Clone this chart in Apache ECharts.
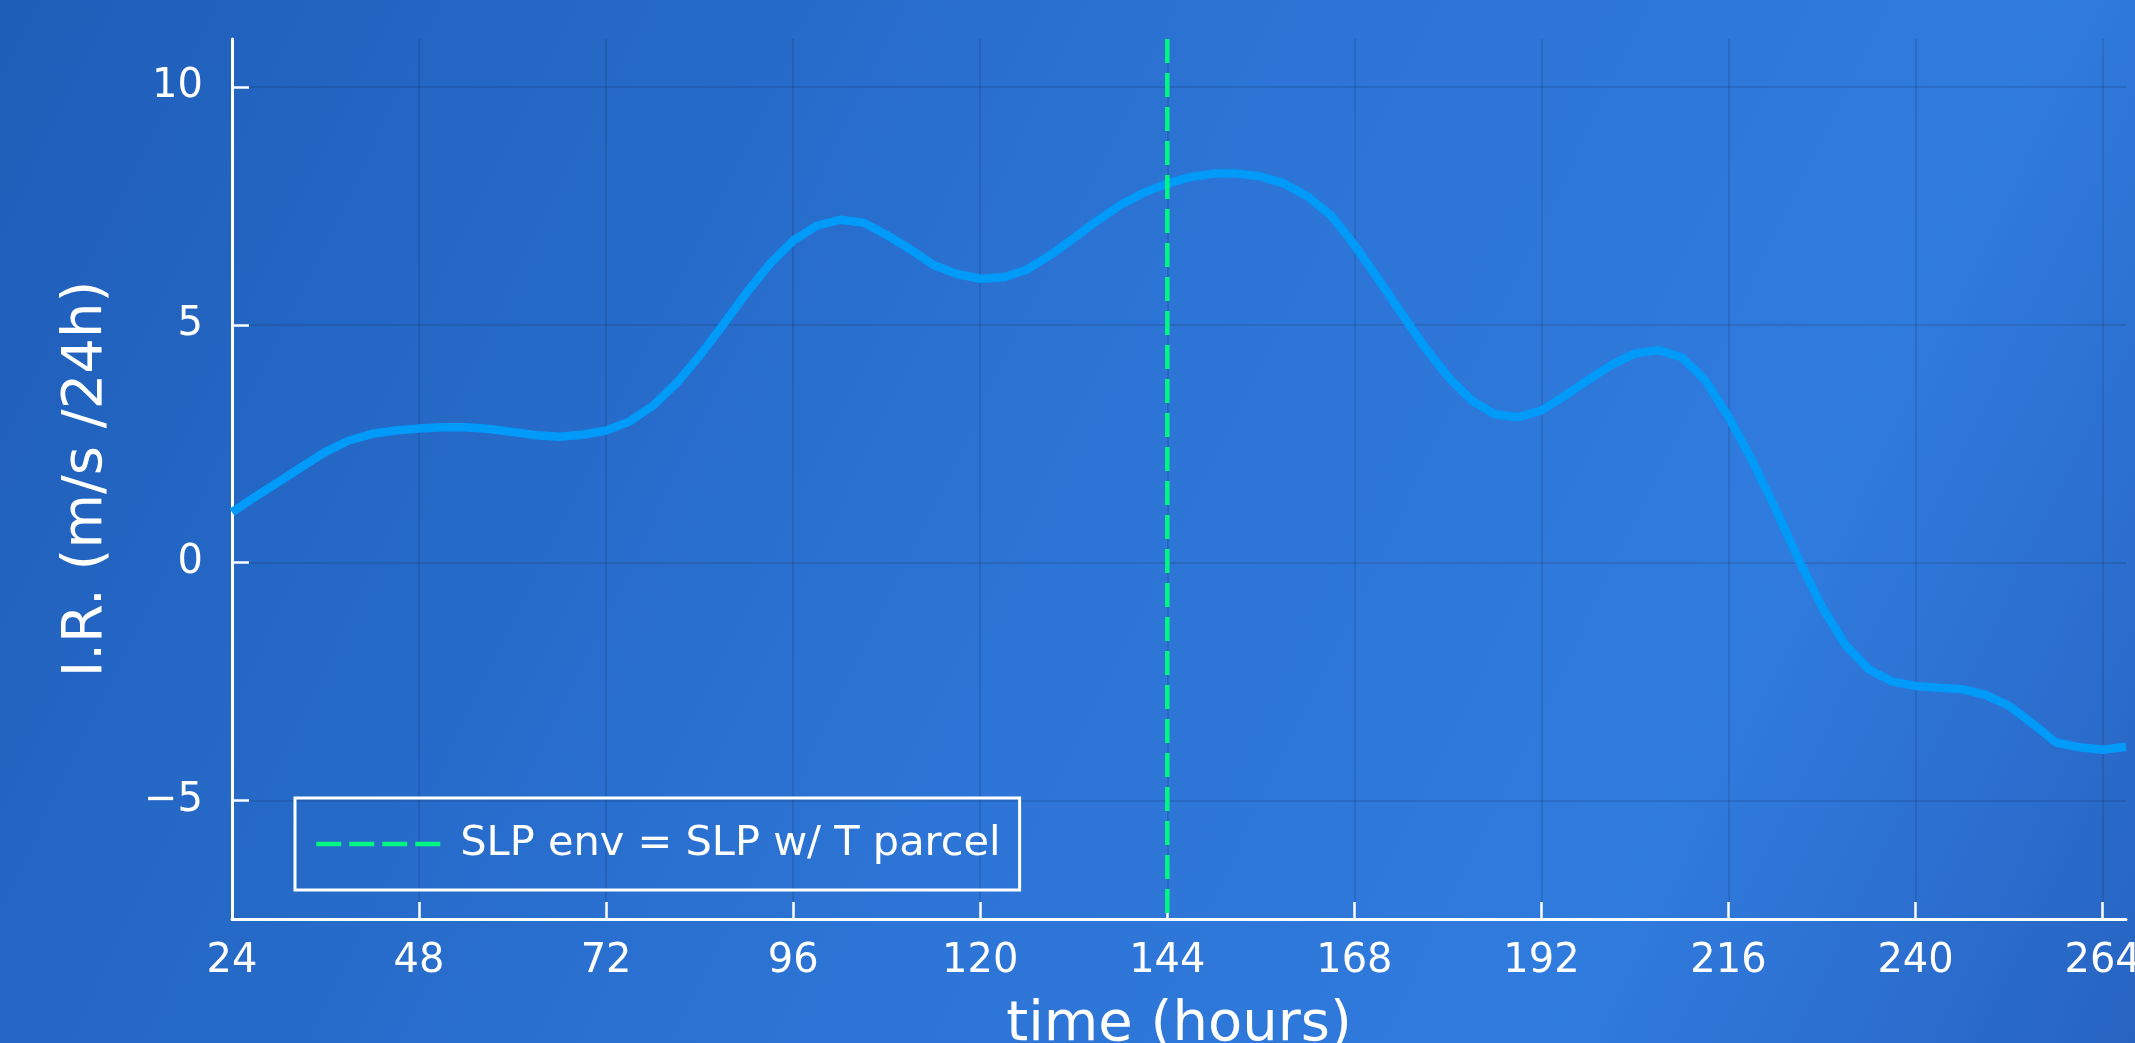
<!DOCTYPE html>
<html>
<head>
<meta charset="utf-8">
<script src="https://cdn.jsdelivr.net/npm/echarts@6/dist/echarts.min.js"></script>
<style>
  html, body { margin: 0; padding: 0; }
  #main { width: 2135px; height: 1043px; }
</style>
</head>
<body>
<div id="main"></div>
<script>
var hours = [24, 27, 30, 33, 36, 39, 42, 45, 48, 51, 54, 57, 60, 63, 66, 69, 72, 75, 78, 81,
  84, 87, 90, 93, 96, 99, 102, 105, 108, 111, 114, 117, 120, 123, 126, 129, 132, 135, 138, 141,
  144, 147, 150, 153, 156, 159, 162, 165, 168, 171, 174, 177, 180, 183, 186, 189, 192, 195, 198, 201,
  204, 207, 210, 213, 216, 219, 222, 225, 228, 231, 234, 237, 240, 243, 246, 249, 252, 255, 258, 261,
  264, 267];
var irValues = [1.06, 1.39, 1.70, 2.02, 2.33, 2.57, 2.71, 2.78, 2.82, 2.85, 2.85, 2.81, 2.75, 2.68, 2.65, 2.69, 2.78, 2.97, 3.30, 3.77,
  4.35, 5.00, 5.67, 6.28, 6.77, 7.08, 7.21, 7.15, 6.89, 6.59, 6.26, 6.07, 5.97, 6.00, 6.16, 6.47, 6.82, 7.19, 7.52, 7.78,
  7.97, 8.11, 8.18, 8.18, 8.12, 7.97, 7.70, 7.30, 6.68, 5.98, 5.25, 4.54, 3.91, 3.42, 3.12, 3.06, 3.20, 3.51, 3.84, 4.16,
  4.40, 4.47, 4.32, 3.84, 3.07, 2.16, 1.14, 0.07, -0.93, -1.73, -2.24, -2.50, -2.59, -2.63, -2.66, -2.78, -3.01, -3.38, -3.78, -3.88,
  -3.93, -3.87];

var vlineHour = 144;
var vlineName = 'SLP env = SLP w/ T parcel';

var xTicks = [24, 48, 72, 96, 120, 144, 168, 192, 216, 240, 264];
var yTicks = [-5, 0, 5, 10];
var xRange = [24, 267];
var yRange = [-7.49, 11.01];

var font = 'DejaVu Sans';
var gridColor = 'rgba(0, 0, 0, 0.1)';
var green = '#00f882';

var chartDom = document.getElementById('main');
var myChart = echarts.init(chartDom, null, { renderer: 'canvas' });
var option;

var lineData = hours.map(function (h, i) { return [h, irValues[i]]; });
// drawn top to bottom so the dash pattern starts at the top of the plot
var vlineData = [[vlineHour, yRange[1]], [vlineHour, yRange[0]]];

option = {
  animation: false,
  backgroundColor: {
    type: 'linear', x: 0, y: 0, x2: 1, y2: 1,
    colorStops: [
      { offset: 0, color: '#1f5eb9' },
      { offset: 0.5, color: '#2c74d5' },
      { offset: 0.78, color: '#307bde' },
      { offset: 1, color: '#2764c2' }
    ]
  },
  grid: {
    left: 232,
    right: 9,
    top: 39,
    bottom: 124,
    outerBoundsMode: 'none'
  },
  legend: {
    data: [vlineName],
    left: 295,
    top: 798,
    padding: [25, 19, 25, 19],
    borderColor: '#ffffff',
    borderWidth: 3,
    itemWidth: 125,
    itemHeight: 40,
    itemStyle: { color: 'rgba(0,0,0,0)', borderWidth: 0, opacity: 0 },
    lineStyle: { color: green, width: 4.5, type: [25, 8] },
    textStyle: {
      color: '#ffffff',
      fontSize: 41.5,
      fontFamily: font,
      padding: [0, 0, 0, 14]
    }
  },
  xAxis: {
    type: 'value',
    min: xRange[0],
    max: xRange[1],
    name: 'time (hours)',
    nameLocation: 'middle',
    nameGap: 78,
    nameTextStyle: { color: '#ffffff', fontSize: 56, fontFamily: font },
    axisLine: { onZero: false, lineStyle: { color: '#ffffff', width: 3 } },
    axisTick: {
      inside: true, length: 17, customValues: xTicks,
      lineStyle: { color: '#ffffff', width: 2.5 }
    },
    axisLabel: {
      customValues: xTicks,
      color: '#ffffff', fontSize: 40, fontFamily: font, margin: 23
    },
    splitLine: { show: true, lineStyle: { color: gridColor, width: 2 } }
  },
  yAxis: {
    type: 'value',
    min: yRange[0],
    max: yRange[1],
    name: 'I.R. (m/s /24h)',
    nameLocation: 'middle',
    nameGap: 118,
    nameTextStyle: { color: '#ffffff', fontSize: 56, fontFamily: font },
    axisLine: { show: true, onZero: false, lineStyle: { color: '#ffffff', width: 3 } },
    axisTick: {
      show: true, inside: true, length: 17, customValues: yTicks,
      lineStyle: { color: '#ffffff', width: 2.5 }
    },
    axisLabel: {
      customValues: yTicks,
      color: '#ffffff', fontSize: 40, fontFamily: font, margin: 29,
      formatter: function (v) { return String(v).replace('-', '\u2212'); }
    },
    splitLine: { show: true, lineStyle: { color: gridColor, width: 2 } }
  },
  series: [
    {
      name: 'I.R.',
      type: 'line',
      data: lineData,
      symbol: 'none',
      lineStyle: { color: '#009af9', width: 8.5 },
      itemStyle: { color: '#009af9' },
      z: 2
    },
    {
      name: vlineName,
      type: 'line',
      data: vlineData,
      symbol: 'none',
      lineStyle: { color: green, width: 4.5, type: [24, 10] },
      itemStyle: { color: green },
      z: 3
    }
  ]
};

option && myChart.setOption(option);
</script>
</body>
</html>
